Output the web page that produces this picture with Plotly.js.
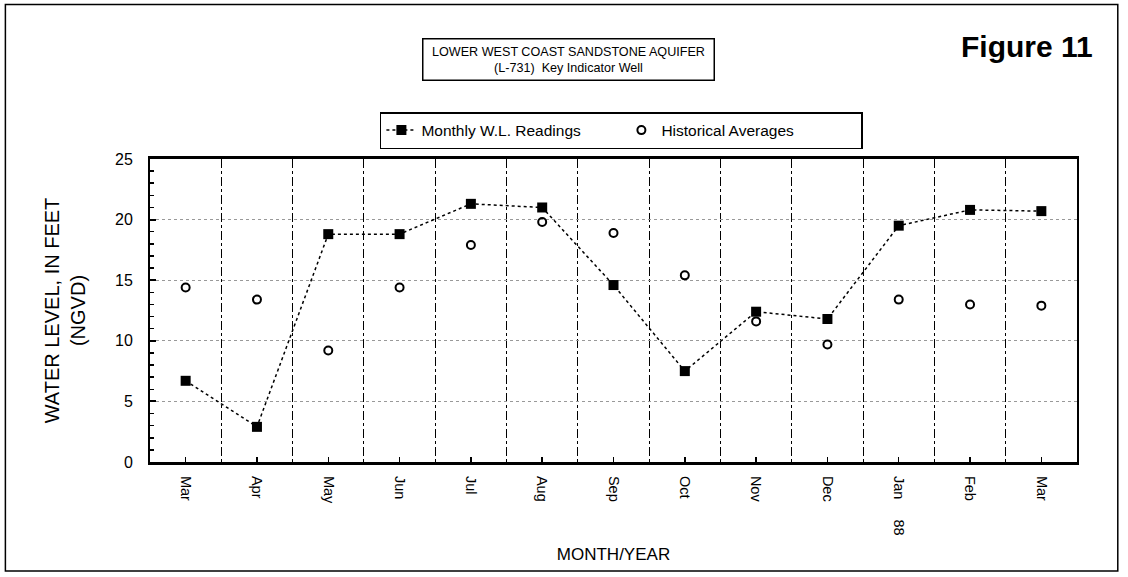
<!DOCTYPE html>
<html>
<head>
<meta charset="utf-8">
<script src="https://cdn.plot.ly/plotly-3.0.1.min.js"></script>
<style>html,body{margin:0;padding:0;background:#fff;}#chart{width:1128px;height:577px;}</style>
</head>
<body>
<div id="chart"></div>
<script>
// Months (Mar 1987 – Mar 1988)
const monthLabels = ["Mar","Apr","May","Jun","Jul","Aug","Sep","Oct","Nov","Dec","Jan     88","Feb","Mar"];
// Monthly water-level readings (ft, NGVD)
const monthlyReadings = [6.7, 2.9, 18.8, 18.8, 21.3, 21.0, 14.6, 7.5, 12.4, 11.8, 19.5, 20.8, 20.7];
// Historical averages (ft, NGVD)
const historicalAverages = [14.4, 13.4, 9.2, 14.4, 17.9, 19.8, 18.9, 15.4, 11.6, 9.7, 13.4, 13.0, 12.9];
const yTicks = [0, 5, 10, 15, 20, 25];

const xIdx = monthLabels.map((_, i) => i);
const font = "Liberation Sans, Arial, sans-serif";

const traces = [
  {
    x: xIdx, y: monthlyReadings, type: "scatter", mode: "lines+markers",
    name: "Monthly W.L. Readings",
    line: {color: "#000", width: 1.5, dash: "dot"},
    marker: {symbol: "square", size: 10, color: "#000"}
  },
  {
    x: xIdx, y: historicalAverages, type: "scatter", mode: "markers",
    name: "Historical Averages",
    marker: {symbol: "circle-open", size: 8, color: "#000", line: {width: 2, color: "#000"}}
  }
];

const layout = {
  width: 1128, height: 577,
  margin: {l: 150, r: 51, t: 159, b: 115},
  paper_bgcolor: "#fff", plot_bgcolor: "#fff",
  font: {family: font, color: "#000", size: 13},
  showlegend: true,
  legend: {
    orientation: "h", x: 0.248, y: 1.155, xanchor: "left", yanchor: "top",
    bordercolor: "#000", borderwidth: 1.5, bgcolor: "#fff",
    font: {family: font, size: 15.5, color: "#000"},
    itemwidth: 30, tracegroupgap: 0, entrywidth: 195, entrywidthmode: "pixels"
  },
  xaxis: {
    range: [-0.5, monthLabels.length - 0.5],
    tickmode: "array", tickvals: xIdx, ticktext: monthLabels,
    tickangle: 90, ticks: "inside", ticklen: 5, tickwidth: 1.5, tickcolor: "#000",
    ticklabelstandoff: 8,
    tickfont: {family: font, size: 14.5, color: "#000"},
    showline: true, linecolor: "#000", linewidth: 3, mirror: true,
    showgrid: false, zeroline: false,
    minor: {tick0: 0.5, dtick: 1, showgrid: true, gridcolor: "#000", gridwidth: 1, griddash: "dashdot", ticks: ""},
    title: {text: "MONTH/YEAR", font: {family: font, size: 17, color: "#000"}, standoff: 14}
  },
  yaxis: {
    range: [0, 25], tickmode: "array", tickvals: yTicks,
    ticks: "inside", ticklen: 6, tickwidth: 2, tickcolor: "#000",
    ticklabelstandoff: 12,
    tickfont: {family: font, size: 16, color: "#000"},
    showline: true, linecolor: "#000", linewidth: 2, mirror: true,
    showgrid: true, gridcolor: "#999", gridwidth: 1, griddash: "dot",
    zeroline: false,
    minor: {dtick: 1, ticks: "inside", ticklen: 4, tickwidth: 1.5, tickcolor: "#000", showgrid: false},
    title: {text: "WATER LEVEL, IN FEET<br>(NGVD)", font: {family: font, size: 20, color: "#000"}, standoff: 24}
  },
  annotations: [
    {
      text: "LOWER WEST COAST SANDSTONE AQUIFER<br>(L-731)  Key Indicator Well",
      xref: "paper", yref: "paper", x: 0.4517, y: 1.327, xanchor: "center", yanchor: "middle",
      showarrow: false, font: {family: font, size: 12.6, color: "#000"},
      bordercolor: "#000", borderwidth: 1.5, borderpad: 5, bgcolor: "#fff", width: 280, align: "center"
    },
    {
      text: "<b>Figure 11</b>", xref: "paper", yref: "paper", x: 0.946, y: 1.37,
      xanchor: "center", yanchor: "middle", showarrow: false,
      font: {family: font, size: 30, color: "#000"}
    }
  ],
  shapes: [
    {type: "rect", xref: "paper", yref: "paper", x0: -0.156, x1: 1.044, y0: -0.36, y1: 1.51,
     line: {color: "#000", width: 1.5}, fillcolor: "rgba(0,0,0,0)", layer: "below"}
  ]
};

Plotly.newPlot("chart", traces, layout, {displayModeBar: false, staticPlot: true});
</script>
</body>
</html>
